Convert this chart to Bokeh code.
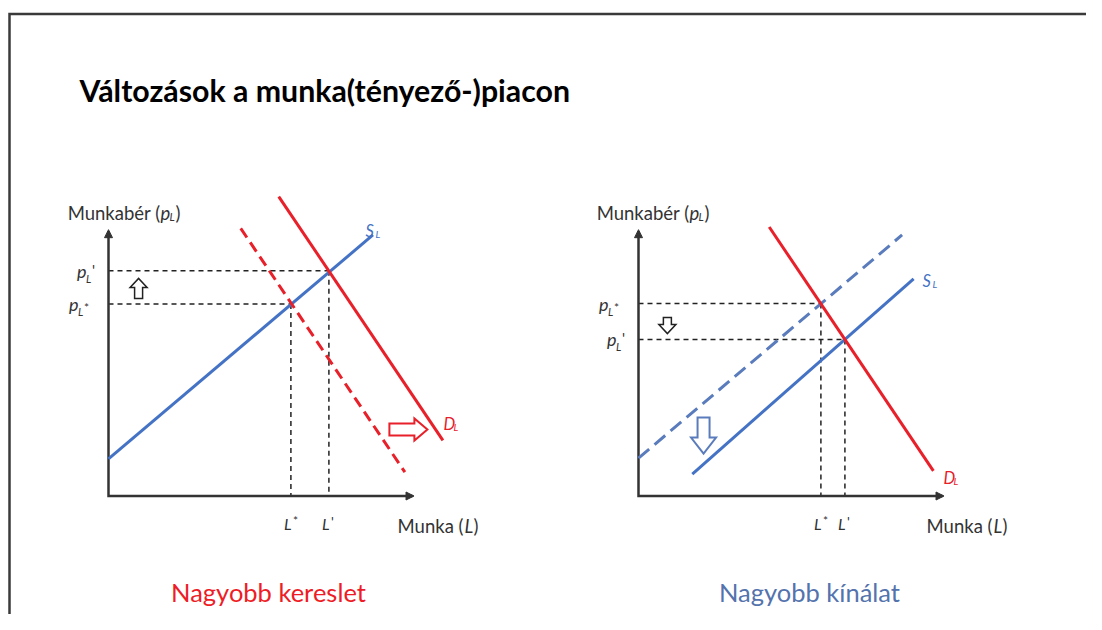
from bokeh.plotting import figure
from bokeh.models import Range1d, Arrow, NormalHead
from bokeh.core.properties import value
from bokeh.embed import file_html
from bokeh.resources import INLINE

# ---------------- data (economic units) ----------------
AXIS_MAX = 10.0

# left panel: larger demand (Nagyobb kereslet)
left_S_L = [0.0, 8.7]
left_S_p = [1.4, 9.85]
left_D0_L = [4.35, 9.75]      # original demand (dashed)
left_D0_p = [10.1, 0.9]
left_D1_L = [5.6, 11.0]       # new demand (solid)
left_D1_p = [11.3, 2.1]
left_eq_L = [6.0, 7.25]       # L*, L'
left_eq_p = [7.25, 8.5]       # p*, p'
left_eq_marks = ["*", "'"]

# right panel: larger supply (Nagyobb kínálat)
right_D_L = [4.3, 9.7]
right_D_p = [10.15, 0.95]
right_S0_L = [0.0, 8.67]      # original supply (dashed)
right_S0_p = [1.43, 9.85]
right_S1_L = [1.77, 9.05]     # new supply (solid)
right_S1_p = [0.83, 8.19]
right_eq_L = [6.0, 6.79]      # L*, L'
right_eq_p = [7.26, 5.91]     # p*, p'
right_eq_marks = ["*", "'"]

title_text = "Változások a munka(tényező-)piacon"
captions = ["Nagyobb kereslet", "Nagyobb kínálat"]
y_label = "Munkabér ("
x_label = "Munka ("

# ---------------- styles / layout ----------------
RED = "#e8202a"
BLUE = "#4472c4"
BLUE_D = "#5a7cbc"
INK = "#333333"
FONT = value("Lato")

W, H = 1086, 614
SX, SY = 30.4, 26.5          # pixels per economic unit
OY = 495.5                   # x-axis position on the page
OX = {"lx": 108.0, "rx": 638.0}

p = figure(width=W, height=H, x_range=Range1d(0, W), y_range=Range1d(H, 0),
           x_axis_location=None, y_axis_location=None,
           output_backend="svg", toolbar_location=None, min_border=0,
           outline_line_color=None, background_fill_color="white")
p.grid.visible = False
p.extra_x_ranges = {k: Range1d(-o / SX, (W - o) / SX) for k, o in OX.items()}
p.extra_y_ranges = {"py": Range1d((OY - H) / SY, OY / SY)}


def T(x, y, s, size, color=INK, style="normal", align="left", xr=None,
      baseline="alphabetic"):
    kw = {}
    if xr is not None:
        kw = dict(x_range_name=xr, y_range_name="py")
    p.text(x=[x], y=[y], text=[s], text_font=FONT, text_font_size=f"{size}px",
           text_font_style=style, text_color=color, text_align=align,
           text_baseline=baseline, **kw)


def ex(v, dx):
    return v + dx / SX


def ey(v, dy):
    return v - dy / SY


def block_arrow(xr, x0, y0, x1, y1, shaft, head, hlen, color, lw):
    """outlined block arrow from (x0,y0) tail to (x1,y1) tip; sizes in px"""
    if x0 == x1:  # vertical
        d = 1 if y1 > y0 else -1
        hs, hh, nk = shaft / 2 / SX, head / 2 / SX, y1 - d * hlen / SY
        xs = [x0 - hs, x0 - hs, x0 - hh, x0, x0 + hh, x0 + hs, x0 + hs]
        ys = [y0, nk, nk, y1, nk, nk, y0]
    else:
        d = 1 if x1 > x0 else -1
        hs, hh, nk = shaft / 2 / SY, head / 2 / SY, x1 - d * hlen / SX
        xs = [x0, nk, nk, x1, nk, nk, x0]
        ys = [y0 - hs, y0 - hs, y0 - hh, y0, y0 + hh, y0 + hs, y0 + hs]
    p.patch(xs, ys, fill_color="white", line_color=color, line_width=lw,
            line_join="miter", x_range_name=xr, y_range_name="py")


def axes(xr):
    p.line([0, 0, AXIS_MAX], [AXIS_MAX, 0, 0], line_width=2.5, line_color=INK,
           line_join="miter", x_range_name=xr, y_range_name="py")
    for xs, ys, xe, ye in [(0, AXIS_MAX - 0.4, 0, AXIS_MAX + 0.05),
                           (AXIS_MAX - 0.4, 0, AXIS_MAX + 0.05, 0)]:
        p.add_layout(Arrow(end=NormalHead(size=8, fill_color=INK, line_color=INK),
                           x_start=xs, y_start=ys, x_end=xe, y_end=ye,
                           line_alpha=0, x_range_name=xr, y_range_name="py"))


def guides(xr, eL, ep, marks):
    for L, pv, m in zip(eL, ep, marks):
        p.line([0, L], [pv, pv], line_dash="5 4", line_width=1.5, line_color="#222",
               x_range_name=xr, y_range_name="py")
        p.line([L, L], [pv, 0], line_dash="5 4", line_width=1.5, line_color="#222",
               x_range_name=xr, y_range_name="py")
        px0 = -31.5 if m == "'" else -39.5
        T(ex(0, px0), pv, "p", 18, style="italic", xr=xr)
        T(ex(0, px0 + 9), ey(pv, 7.5), "L", 11, style="italic", xr=xr)
        if m == "'":
            T(ex(0, px0 + 15), ey(pv, -1), m, 15, xr=xr)
            T(ex(L, 2), ey(0, 25), m, 14, xr=xr)
        else:
            T(ex(0, px0 + 15), ey(pv, 3.5), m, 12, xr=xr)
            T(ex(L, 2), ey(0, 24), m, 12, xr=xr)
        T(ex(L, -7), ey(0, 27.5), "L", 16, style="italic", xr=xr)


def axis_titles(dx):
    T(160 + dx, 212, y_label, 18.5, align="right")
    T(160 + dx, 212, "p", 18.5, style="italic")
    T(169 + dx, 215.5, "L", 11, style="italic")
    T(175 + dx, 212, ")", 18.5)
    T(463 + dx, 525, x_label, 18.5, align="right")
    T(464 + dx, 525, "L", 18.5, style="italic")
    T(473 + dx, 525, ")", 18.5)


def curve_label(xr, x, y, letter, color):
    T(x, y, letter, 16.5, color=color, style="italic", xr=xr)
    T(ex(x, 10), ey(y, 3), "L", 10, color=color, style="italic", xr=xr)


# ---------------- frame + title ----------------
p.line([9, 9, W], [H, 13.5, 13.5], line_width=2.5, line_color="#3a3a3a", line_join="miter")
T(79, 89, title_text, 30.3, color="#000000", style="bold")

# ---------------- left panel ----------------
guides("lx", left_eq_L, left_eq_p, left_eq_marks)
axes("lx")
p.line(left_S_L, left_S_p, line_width=3, line_color=BLUE, x_range_name="lx", y_range_name="py")
p.line(left_D0_L, left_D0_p, line_width=3, line_color=RED, line_dash="11 6",
       x_range_name="lx", y_range_name="py")
p.line(left_D1_L, left_D1_p, line_width=3, line_color=RED, x_range_name="lx", y_range_name="py")
curve_label("lx", ex(0, 365 - 108), ey(0, 230 - OY), "S", BLUE)
curve_label("lx", ex(0, 443 - 108), ey(0, 423 - OY), "D", RED)
block_arrow("lx", 0.99, 7.45, 0.99, 8.21, 8, 17, 9, "#222", 1.5)
block_arrow("lx", 9.24, 2.51, 10.49, 2.51, 12, 22, 13, RED, 2)
axis_titles(0)

# ---------------- right panel ----------------
guides("rx", right_eq_L, right_eq_p, right_eq_marks)
axes("rx")
p.line(right_S0_L, right_S0_p, line_width=3, line_color=BLUE_D, line_dash="14 7",
       x_range_name="rx", y_range_name="py")
p.line(right_S1_L, right_S1_p, line_width=3, line_color=BLUE, x_range_name="rx", y_range_name="py")
p.line(right_D_L, right_D_p, line_width=3, line_color=RED, x_range_name="rx", y_range_name="py")
curve_label("rx", ex(0, 922 - 638), ey(0, 280 - OY), "S", BLUE)
curve_label("rx", ex(0, 943 - 638), ey(0, 477 - OY), "D", RED)
block_arrow("rx", 0.95, 6.74, 0.95, 6.13, 8, 17, 9, "#222", 1.5)
block_arrow("rx", 2.14, 2.96, 2.14, 1.60, 12, 25, 16, BLUE_D, 2)
axis_titles(529)

# ---------------- captions ----------------
T(268, 591, captions[0], 25.5, color="#ee1c25", align="center")
T(809, 591, captions[1], 25.5, color="#5473ad", align="center")

open("out.html", "w").write(file_html(p, INLINE))
